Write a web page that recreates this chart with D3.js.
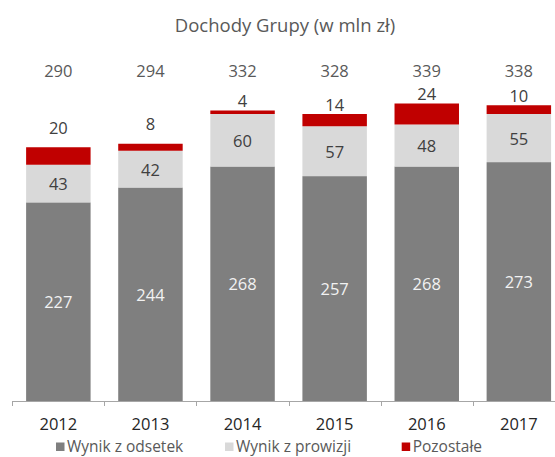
<!DOCTYPE html>
<html>
<head>
<meta charset="utf-8">
<script src="https://cdn.jsdelivr.net/npm/d3@7"></script>
<style>
  html, body { margin: 0; padding: 0; background: #fff; }
  svg { display: block; font-family: "Open Sans", sans-serif; }
</style>
</head>
<body>
<svg id="chart" width="555" height="457"></svg>
<script>
const years = ["2012", "2013", "2014", "2015", "2016", "2017"];
const wynikOdsetek = [227, 244, 268, 257, 268, 273];
const wynikProwizji = [43, 42, 60, 57, 48, 55];
const pozostale = [20, 8, 4, 14, 24, 10];
const totals = [290, 294, 332, 328, 339, 338];
const seriesNames = ["Wynik z odsetek", "Wynik z prowizji", "Pozostałe"];
const colors = ["#7F7F7F", "#D9D9D9", "#C00000"];
const title = "Dochody Grupy (w mln zł)";

const svg = d3.select("#chart");
const fs = 16.5;

const rows = years.map((y, i) => ({
  year: y, a: wynikOdsetek[i], b: wynikProwizji[i], c: pozostale[i], total: totals[i]
}));
const stack = d3.stack().keys(["a", "b", "c"])(rows);

const x = d3.scaleBand().domain(years).range([12.3, 12.3 + 6 * 92.1])
  .paddingInner(0.3).paddingOuter(0.15);
const y = d3.scaleLinear().domain([0, 350]).range([401, 401 - 350 * 0.875]);

// title
svg.append("text").attr("x", 285).attr("y", 24).attr("text-anchor", "middle")
  .attr("dominant-baseline", "central").attr("fill", "#595959")
  .attr("font-size", 18.5).text(title);

// bars
const g = svg.append("g");
stack.forEach((s, si) => {
  g.selectAll(null).data(s).join("rect")
    .attr("x", d => x(d.data.year))
    .attr("width", x.bandwidth())
    .attr("y", d => y(d[1]))
    .attr("height", d => y(d[0]) - y(d[1]))
    .attr("fill", colors[si]);
});

// segment labels
stack.forEach((s, si) => {
  g.selectAll(null).data(s).join("text")
    .attr("x", d => x(d.data.year) + x.bandwidth() / 2)
    .attr("y", d => si === 2 ? y(d[1]) - (y(d[1]) > 130 ? 20 : 10) : (y(d[0]) + y(d[1])) / 2)
    .attr("text-anchor", "middle").attr("dominant-baseline", "central")
    .attr("font-size", fs)
    .attr("fill", si === 0 ? "#F2F2F2" : "#404040")
    .text(d => d[1] - d[0]);
});

// totals
g.selectAll(null).data(rows).join("text")
  .attr("x", d => x(d.year) + x.bandwidth() / 2)
  .attr("y", 70)
  .attr("text-anchor", "middle").attr("dominant-baseline", "central")
  .attr("font-size", fs).attr("fill", "#595959")
  .text(d => d.total);

// axis
const axisG = svg.append("g").attr("transform", "translate(0,401)");
axisG.call(d3.axisBottom(x).tickSize(0).tickPadding(0));
axisG.select(".domain").attr("stroke", "#A6A6A6").attr("d", `M12.3,0.5H555`);
axisG.selectAll(".tick text").attr("font-size", 16.5).attr("fill", "#262626")
  .attr("font-family", "Open Sans, sans-serif")
  .attr("dy", null).attr("y", 22.5).attr("dominant-baseline", "central");
const bounds = d3.range(0, years.length + 1).map(i => x.range()[0] + i * x.step());
axisG.selectAll(".bt").data(bounds).join("line")
  .attr("x1", d => Math.round(d) + 0.5).attr("x2", d => Math.round(d) + 0.5)
  .attr("y1", 0).attr("y2", 5).attr("stroke", "#A6A6A6");

// legend
const legX = [56, 225, 401.7];
const leg = svg.append("g");
seriesNames.forEach((n, i) => {
  leg.append("rect").attr("x", legX[i]).attr("y", 442.5).attr("width", 8.5).attr("height", 8.5)
    .attr("fill", colors[i]);
  leg.append("text").attr("x", legX[i] + 11).attr("y", 446).attr("dominant-baseline", "central")
    .attr("font-size", 15.5).attr("fill", "#595959").text(n);
});
</script>
</body>
</html>
